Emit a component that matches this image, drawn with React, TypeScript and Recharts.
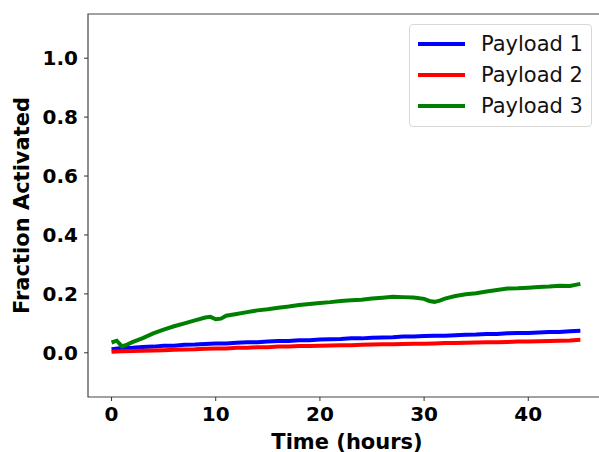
import React from 'react';
import { LineChart, Line, XAxis, YAxis, ReferenceArea, Legend } from 'recharts';

const hours = [0,1,2,3,4,5,6,7,8,9,10,11,12,13,14,15,16,17,18,19,20,21,22,23,24,25,26,27,28,29,30,31,32,33,34,35,36,37,38,39,40,41,42,43,44,45];
const payload1 = [0.012,0.016,0.017,0.02,0.021,0.024,0.024,0.027,0.028,0.03,0.032,0.032,0.034,0.036,0.036,0.038,0.04,0.04,0.043,0.043,0.045,0.046,0.047,0.049,0.049,0.051,0.052,0.053,0.055,0.055,0.057,0.058,0.058,0.06,0.061,0.062,0.064,0.064,0.066,0.067,0.067,0.069,0.071,0.071,0.073,0.075];
const payload2 = [0.004,0.005,0.006,0.007,0.008,0.009,0.01,0.011,0.012,0.014,0.015,0.015,0.017,0.017,0.019,0.019,0.021,0.021,0.023,0.023,0.024,0.025,0.026,0.026,0.027,0.028,0.029,0.029,0.03,0.031,0.031,0.032,0.033,0.033,0.034,0.035,0.036,0.036,0.037,0.038,0.038,0.039,0.04,0.041,0.042,0.044];
const payload3Hours = [0,0.5,1,1.5,2,3,4,5,6,7,8,9,9.5,10,10.5,11,12,13,14,15,16,17,18,19,20,21,22,23,24,25,26,27,28,29,30,30.5,31,31.5,32,33,34,35,36,37,38,39,40,41,42,43,44,45];
const payload3 = [0.035,0.041,0.022,0.028,0.036,0.05,0.066,0.079,0.09,0.1,0.11,0.12,0.122,0.114,0.116,0.126,0.132,0.138,0.144,0.148,0.153,0.157,0.162,0.166,0.169,0.172,0.176,0.178,0.18,0.184,0.187,0.19,0.189,0.188,0.183,0.176,0.173,0.177,0.184,0.193,0.199,0.202,0.208,0.213,0.218,0.219,0.221,0.223,0.225,0.228,0.227,0.234];

const seriesNames = ['Payload 1', 'Payload 2', 'Payload 3'];
const seriesColors = ['#0000ff', '#ff0000', '#008000'];
const xTicks = [0, 10, 20, 30, 40];
const yTicks = [0, 0.2, 0.4, 0.6, 0.8, 1.0];
const xDomain: [number, number] = [-2.26, 47.46];
const yDomain: [number, number] = [-0.15, 1.15];

const data12 = hours.map((t, i) => ({ t, p1: payload1[i], p2: payload2[i] }));
const data3 = payload3Hours.map((t, i) => ({ t, p3: payload3[i] }));

const FONT = '"DejaVu Sans", sans-serif';

const YLabel = (props: any) => {
  const vb = props.viewBox || {};
  const cy = vb.y + vb.height / 2;
  return (
    <text x={22} y={cy} transform={`rotate(-90, 22, ${cy})`} textAnchor="middle" dominantBaseline="central"
      fontFamily={FONT} fontWeight="bold" fontSize={21} fill="#000">Fraction Activated</text>
  );
};

const XLabel = (props: any) => {
  const vb = props.viewBox || {};
  const cx = vb.x + vb.width / 2;
  return (
    <text x={cx} y={442} textAnchor="middle" dominantBaseline="central"
      fontFamily={FONT} fontWeight="bold" fontSize={21} fill="#000">Time (hours)</text>
  );
};

const LegendContent = () => (
  <div style={{ width: 183, height: 103, boxSizing: 'border-box', border: '1px solid #d8d8d8', borderRadius: 4, background: 'rgba(255,255,255,0.85)', position: 'relative', fontFamily: FONT, fontSize: 21 }}>
    {seriesNames.map((n, i) => (
      <div key={n} style={{ position: 'absolute', left: 0, top: 4 + i * 31, height: 31, width: '100%' }}>
        <svg width={60} height={31} style={{ position: 'absolute', left: 0, top: 0 }}>
          <line x1={8} x2={55} y1={15} y2={15} stroke={seriesColors[i]} strokeWidth={4} />
        </svg>
        <span style={{ position: 'absolute', left: 71, top: 2, lineHeight: '26px', color: '#111' }}>{n}</span>
      </div>
    ))}
  </div>
);

export default function App() {
  return (
    <div style={{ position: 'absolute', left: 0, top: 0, width: 599, height: 452, overflow: 'hidden', background: '#fff' }}>
      <LineChart width={606} height={452} margin={{ top: 14, right: 0, bottom: 0, left: 0 }}>
        <XAxis dataKey="t" type="number" domain={xDomain} ticks={xTicks} allowDataOverflow
          height={55} tickSize={4} tickMargin={6} axisLine={false}
          tickLine={{ stroke: '#333' }} interval={0}
          tick={{ fontFamily: FONT, fontWeight: 'bold', fontSize: 20, fill: '#000' }}
          label={<XLabel />} />
        <YAxis type="number" domain={yDomain} ticks={yTicks} allowDataOverflow
          width={88} tickSize={4} tickMargin={6} axisLine={false}
          tickLine={{ stroke: '#333' }} interval={0}
          tickFormatter={(v: number) => v.toFixed(1)}
          tick={{ fontFamily: FONT, fontWeight: 'bold', fontSize: 20, fill: '#000' }}
          label={<YLabel />} />
        <ReferenceArea x1={xDomain[0]} x2={xDomain[1]} y1={yDomain[0]} y2={yDomain[1]} fill="none" stroke="#444" strokeWidth={1.2} ifOverflow="visible" />
        <Line data={data12} dataKey="p1" name={seriesNames[0]} stroke={seriesColors[0]} strokeWidth={4} dot={false} isAnimationActive={false} />
        <Line data={data12} dataKey="p2" name={seriesNames[1]} stroke={seriesColors[1]} strokeWidth={4} dot={false} isAnimationActive={false} />
        <Line data={data3} dataKey="p3" name={seriesNames[2]} stroke={seriesColors[2]} strokeWidth={4} dot={false} isAnimationActive={false} />
        <Legend layout="vertical" align="center" verticalAlign="middle" content={<LegendContent />}
          wrapperStyle={{ left: 409, top: 24, width: 183, height: 103 }} />
      </LineChart>
    </div>
  );
}
